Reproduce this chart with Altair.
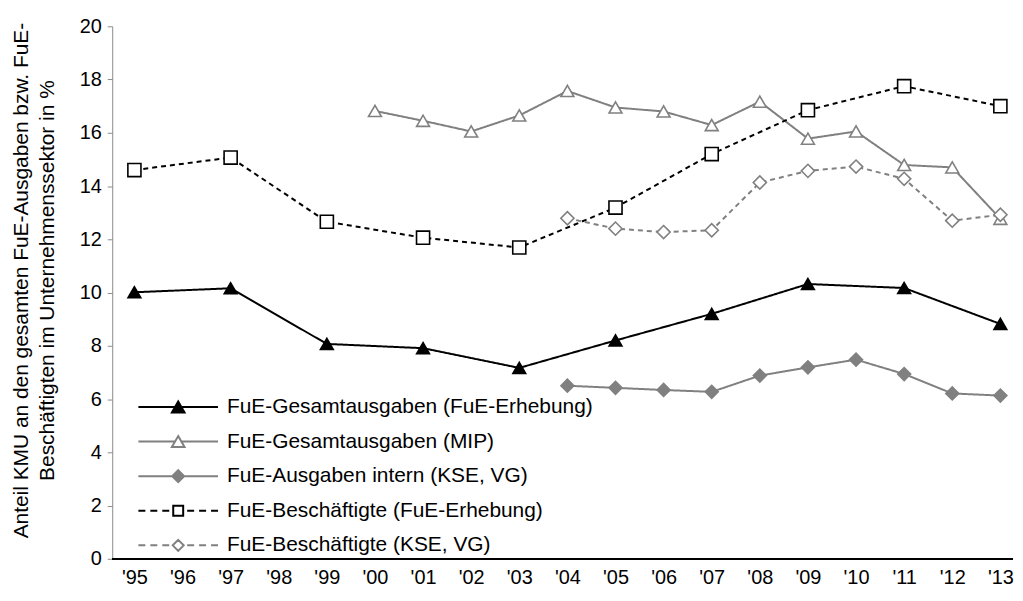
import altair as alt
import pandas as pd

# ---- data ----
year_nums = list(range(1995, 2014))
year_labels = ["'" + str(y)[2:] for y in year_nums]

series_names = [
    "FuE-Gesamtausgaben (FuE-Erhebung)",
    "FuE-Gesamtausgaben (MIP)",
    "FuE-Ausgaben intern (KSE, VG)",
    "FuE-Beschäftigte (FuE-Erhebung)",
    "FuE-Beschäftigte (KSE, VG)",
]

gesamt_erh_years = [1995, 1997, 1999, 2001, 2003, 2005, 2007, 2009, 2011, 2013]
gesamt_erh = [10.01, 10.16, 8.07, 7.91, 7.17, 8.2, 9.2, 10.32, 10.17, 8.82]

mip_years = list(range(2000, 2014))
mip = [16.82, 16.45, 16.05, 16.65, 17.57, 16.95, 16.8, 16.29, 17.17, 15.78,
       16.05, 14.79, 14.7, 12.77]

intern_years = list(range(2004, 2014))
intern = [6.5, 6.42, 6.34, 6.27, 6.88, 7.19, 7.48, 6.94, 6.21, 6.13]

besch_erh_years = [1995, 1997, 1999, 2001, 2003, 2005, 2007, 2009, 2011, 2013]
besch_erh = [14.6, 15.07, 12.66, 12.06, 11.69, 13.19, 15.2, 16.85, 17.75, 17.0]

besch_kse_years = list(range(2004, 2014))
besch_kse = [12.79, 12.4, 12.27, 12.34, 14.13, 14.57, 14.73, 14.27, 12.7, 12.92]

y_ticks = list(range(0, 21, 2))

# ---- build long table ----
rows = []
for name, yrs, vals in [
    (series_names[0], gesamt_erh_years, gesamt_erh),
    (series_names[1], mip_years, mip),
    (series_names[2], intern_years, intern),
    (series_names[3], besch_erh_years, besch_erh),
    (series_names[4], besch_kse_years, besch_kse),
]:
    for y, v in zip(yrs, vals):
        rows.append({"series": name, "yearnum": y,
                     "year": "'" + str(y)[2:], "value": v})
df = pd.DataFrame(rows)

# ---- styles ----
BLACK = "#000000"
GRAY = "#808080"
line_colors = [BLACK, GRAY, GRAY, BLACK, GRAY]
dashes = [[1, 0], [1, 0], [1, 0], [5, 4], [5, 4]]
marker_shapes = ["triangle-up", "triangle-up", "diamond", "square", "diamond"]
marker_fills = [BLACK, "#ffffff", GRAY, "#ffffff", "#ffffff"]
marker_strokes = [BLACK, GRAY, GRAY, BLACK, GRAY]
marker_sizes = [165, 175, 150, 100, 115]

DL = "M-4,0H-3.3M-2.8,0H-2.1M-1.6,0H-0.9"
DR = "M0.9,0H1.6M2.1,0H2.8M3.3,0H4"
legend_paths = [
    "M-4,0H4M0,-0.55L0.635,0.55L-0.635,0.55Z",
    "M-4,0H-0.32M0.32,0H4M0,-0.55L0.635,0.55L-0.635,0.55Z",
    "M-4,0H4M0,-0.6L0.6,0L0,0.6L-0.6,0Z",
    DL + "M-0.5,-0.5H0.5V0.5H-0.5Z" + DR,
    DL + "M0,-0.55L0.55,0L0,0.55L-0.55,0Z" + DR,
]

W, H = 905, 535
x_enc = alt.X("year:O",
              scale=alt.Scale(domain=year_labels, range=[22.3, 892.3], padding=0),
              axis=alt.Axis(title=None, labelAngle=0, ticks=False, domain=False,
                            labelFontSize=20, labelPadding=9, labelColor=BLACK,
                            grid=False))
y_enc = alt.Y("value:Q",
              scale=alt.Scale(domain=[0, 20], nice=False, zero=True),
              axis=alt.Axis(values=y_ticks, grid=False, tickSize=5,
                            domainColor="#8a8a8a", tickColor="#8a8a8a",
                            labelFontSize=20, labelPadding=6, labelColor=BLACK,
                            title=["Anteil KMU an den gesamten FuE-Ausgaben bzw. FuE-",
                                   "Beschäftigten im Unternehmenssektor in %"],
                            titleFontSize=21, titleFontWeight="normal",
                            titleColor=BLACK, titleAngle=-90, titleAlign="center",
                            titleBaseline="top", titleLineHeight=26,
                            titleX=-102, titleY=255))

base = alt.Chart(df)

lines = base.mark_line(strokeWidth=2).encode(
    x=x_enc, y=y_enc,
    stroke=alt.Stroke("series:N", scale=alt.Scale(domain=series_names, range=line_colors), legend=None),
    strokeDash=alt.StrokeDash("series:N", scale=alt.Scale(domain=series_names, range=dashes), legend=None),
    order="yearnum:Q",
)

points = base.mark_point(opacity=1, strokeWidth=1.6).encode(
    x=x_enc, y=y_enc,
    shape=alt.Shape("series:N", scale=alt.Scale(domain=series_names, range=marker_shapes), legend=None),
    fill=alt.Fill("series:N", scale=alt.Scale(domain=series_names, range=marker_fills), legend=None),
    stroke=alt.Stroke("series:N", scale=alt.Scale(domain=series_names, range=marker_strokes), legend=None),
    size=alt.Size("series:N", scale=alt.Scale(domain=series_names, range=marker_sizes), legend=None),
)

baseline = alt.Chart(df).mark_rule(color=BLACK, strokeWidth=1.3).encode(
    y=alt.datum(0), x=alt.value(0), x2=alt.value("width"))

leg = alt.Legend(title=None, orient="none", legendX=55.3, legendY=371.5,
                 padding=0, labelFontSize=21, labelColor=BLACK, labelLimit=0,
                 labelOffset=38, symbolSize=400, symbolStrokeWidth=2,
                 rowPadding=13.75)

legend_layer = alt.Chart(df).transform_filter("false").mark_point(
    opacity=1, size=400, strokeWidth=2).encode(
    x=x_enc, y=y_enc,
    shape=alt.Shape("series:N", scale=alt.Scale(domain=series_names, range=legend_paths), legend=leg),
    fill=alt.Fill("series:N", scale=alt.Scale(domain=series_names, range=marker_fills), legend=leg),
    stroke=alt.Stroke("series:N", scale=alt.Scale(domain=series_names, range=marker_strokes), legend=leg),
)

chart = alt.layer(lines, points, baseline, legend_layer).resolve_scale(
    shape="independent", fill="independent", stroke="independent",
    size="independent", strokeDash="independent"
).properties(
    width=W, height=H,
    autosize=alt.AutoSizeParams(type="none"),
    padding={"left": 104.7, "top": 17, "right": 2, "bottom": 33},
).configure(font="Liberation Sans").configure_view(stroke=None)

chart.save("out.html", embed_options={"renderer": "svg", "actions": False})
